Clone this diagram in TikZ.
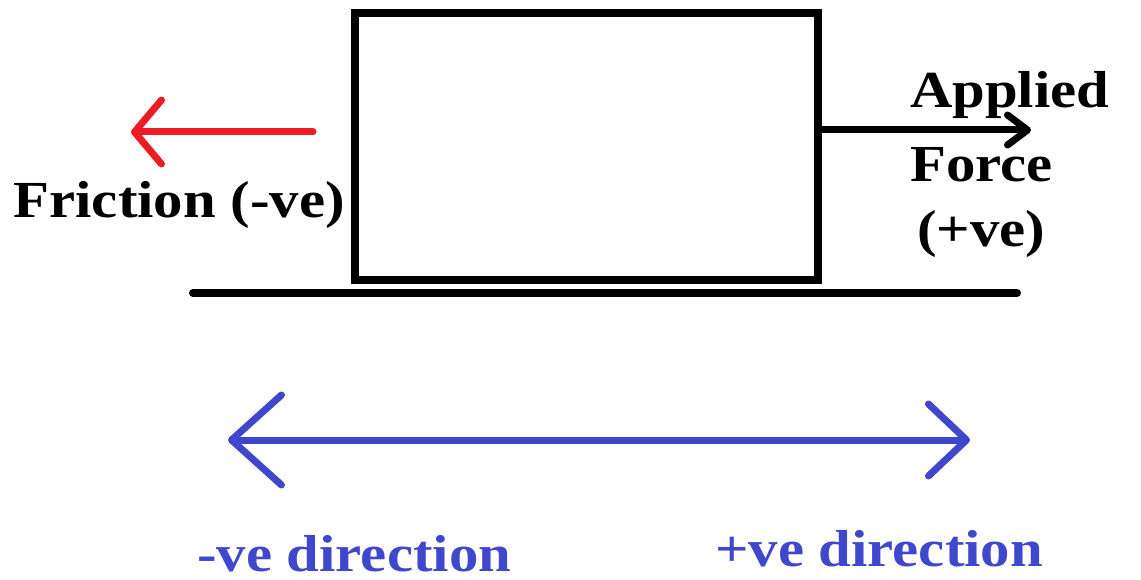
\documentclass[tikz,border=0pt]{standalone}
\usepackage{fontspec}
\setmainfont{Liberation Serif}
\newfontfamily\widefont[FakeStretch=1.13]{Liberation Serif}
\usepackage{xcolor}
\usepackage{tikz}
\usetikzlibrary{arrows.meta}

\definecolor{paintred}{RGB}{237,28,36}
\definecolor{paintblue}{RGB}{63,72,204}

\begin{document}
\begin{tikzpicture}[x=1pt,y=-1pt,
    label/.style={font=\widefont\fontsize{52}{60}\selectfont\bfseries, inner sep=0pt, anchor=base west},
    force/.style={line width=7pt, line cap=round}]
    \useasboundingbox (0,0) rectangle (1141,580);
    % block and floor
    \node [draw, line width=8pt, minimum width=463pt, minimum height=267pt] (block) at (586.5,146.5) {};
    \coordinate (floorL) at (193,293);
    \coordinate (floorR) at (1017,293);
    \draw [line width=8pt, line cap=round] (floorL) -- (floorR);
    % friction
    \coordinate (fricS) at (313,132);
    \coordinate (fricE) at (131,132);
    \draw [force, paintred, -{Straight Barb[length=27pt, width=64pt, round]}] (fricS) -- (fricE);
    \node [label, anchor=base east] (fric) at (345,218) {Friction (-ve)};
    % applied force
    \coordinate (appS) at (822,130);
    \coordinate (appE) at (1031,130);
    \draw [force, -{Straight Barb[length=20pt, width=30pt, round]}] (appS) -- (appE);
    \node [label] (applied) at (910,108) {Applied};
    \node [label] (forcetxt) at (910,182) {Force};
    \node [label] (pve) at (917,247) {(+ve)};
    % sign convention
    \coordinate (dirL) at (228,440);
    \coordinate (dirR) at (970,440);
    \draw [force, paintblue, {Straight Barb[length=50pt, width=90pt, round]}-{Straight Barb[length=38pt, width=72pt, round]}] (dirL) -- (dirR);
    \node [label, paintblue] (neg) at (197,571) {-ve direction};
    \node [label, paintblue] (pos) at (715,566) {+ve direction};
\end{tikzpicture}
\end{document}
